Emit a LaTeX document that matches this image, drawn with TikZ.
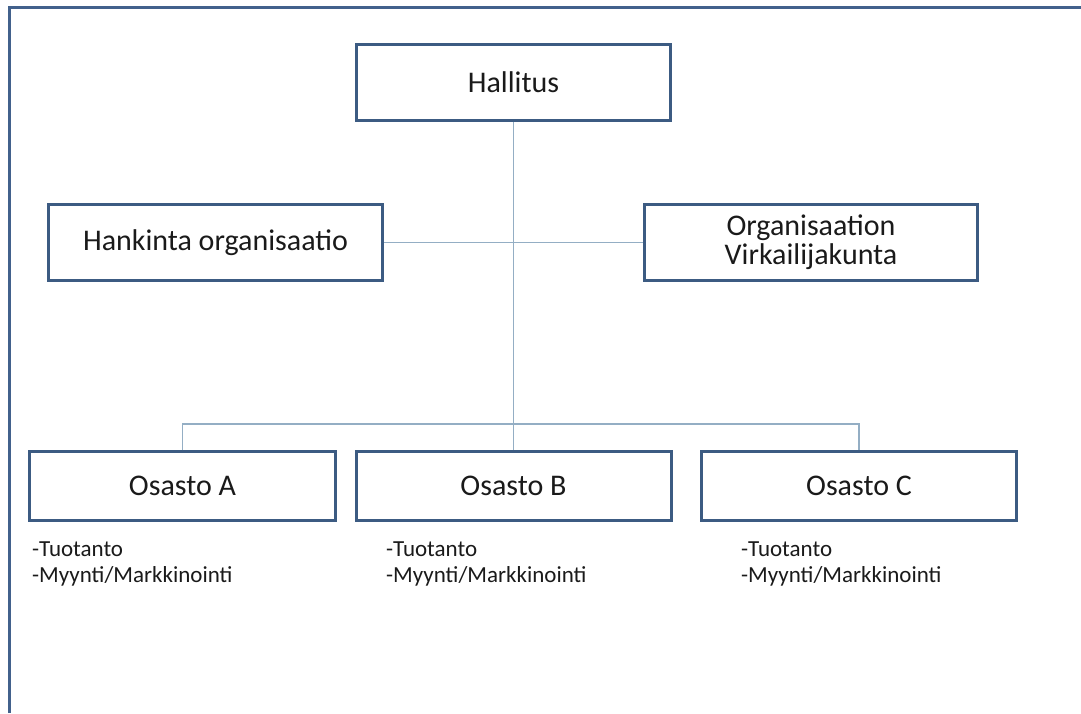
\documentclass[tikz,border=0pt]{standalone}
\usepackage{fontspec}
\setmainfont{Carlito}
\definecolor{boxline}{HTML}{3C5B82}
\definecolor{linkline}{HTML}{94AEC4}
\definecolor{frameline}{HTML}{42618C}
\definecolor{ink}{HTML}{1A1A1A}
\begin{document}
\begin{tikzpicture}[x=1pt,y=-1pt,
  orgbox/.style={draw=boxline,line width=3pt,fill=white,rectangle,inner sep=0pt,
    text=ink,font=\fontsize{30}{29}\selectfont,align=center},
  link/.style={draw=linkline,line width=1.5pt},
  notes/.style={anchor=north west,inner sep=0pt,text=ink,align=left,
    font=\fontsize{23}{26}\selectfont}]
  \useasboundingbox (0,0) rectangle (1081,713);
  \fill[white] (0,0) rectangle (1081,713);
  % frame: only its top and left sides fall inside the page
  \draw[frameline,line width=3pt] (9.5,713) -- (9.5,7.5) -- (1081,7.5);

  % boxes
  \node[orgbox,minimum width=314pt,minimum height=76pt] (hall) at (513.5,82.5) {Hallitus};
  \node[orgbox,minimum width=334pt,minimum height=76pt] (hank) at (215.5,242.5) {Hankinta organisaatio};
  \node[orgbox,minimum width=333pt,minimum height=76pt] (virk) at (811,242.5) {Organisaation\\Virkailijakunta};
  \node[orgbox,minimum width=306pt,minimum height=69pt] (osA) at (182.5,486) {Osasto A};
  \node[orgbox,minimum width=315pt,minimum height=69pt] (osB) at (513.5,486) {Osasto B};
  \node[orgbox,minimum width=315pt,minimum height=69pt] (osC) at (859,486) {Osasto C};
  \coordinate (bus) at (513.5,424);

  % connectors
  \draw[link] (hall.south) -- (bus);
  \draw[link] (hank.east) -- (virk.west);
  \draw[link] (osA.north) |- (bus) -| (osC.north);
  \draw[link] (bus) -- (osB.north);

  % notes under departments
  \node[notes] (nA) at (32,542) {-Tuotanto\\-Myynti/Markkinointi};
  \node[notes] (nB) at (386,542) {-Tuotanto\\-Myynti/Markkinointi};
  \node[notes] (nC) at (741,542) {-Tuotanto\\-Myynti/Markkinointi};
\end{tikzpicture}
\end{document}
